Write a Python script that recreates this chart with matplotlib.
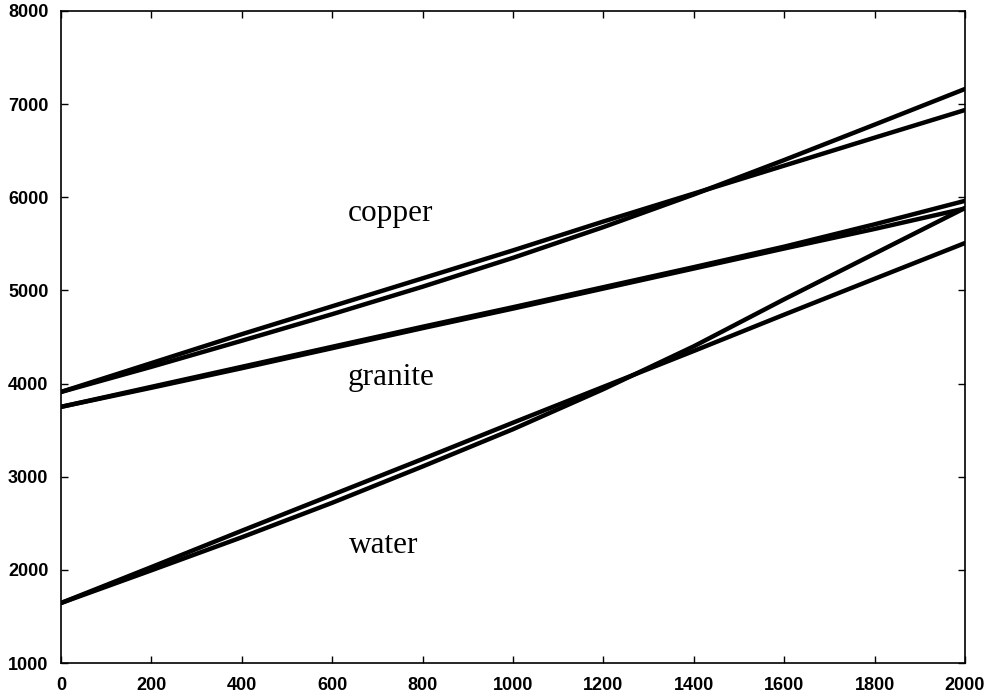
import matplotlib
matplotlib.use("Agg")
import matplotlib.pyplot as plt

# sample positions along the x axis
x_vals = [0, 200, 400, 600, 800, 1000, 1200, 1400, 1600, 1800, 2000]

# copper: two branches
copper_a = [3910, 4220, 4530, 4830, 5130, 5430, 5740, 6040, 6340, 6640, 6937]
copper_b = [3910, 4180, 4460, 4745, 5040, 5350, 5680, 6030, 6400, 6780, 7163]

# granite: two branches
granite_a = [3750, 3965, 4180, 4395, 4610, 4820, 5035, 5250, 5470, 5710, 5962]
granite_b = [3750, 3955, 4165, 4380, 4595, 4805, 5020, 5235, 5450, 5660, 5880]

# water: two branches
water_a = [1644, 2030, 2420, 2805, 3190, 3580, 3965, 4350, 4740, 5125, 5509]
water_b = [1644, 1995, 2350, 2720, 3110, 3510, 3940, 4400, 4905, 5395, 5885]

labels = ["copper", "granite", "water"]
label_x = [730, 730, 715]
label_y = [5830, 4060, 2260]

x_ticks = [0, 200, 400, 600, 800, 1000, 1200, 1400, 1600, 1800, 2000]
y_ticks = [1000, 2000, 3000, 4000, 5000, 6000, 7000, 8000]

fig = plt.figure(figsize=(9.87, 6.98), dpi=100)
ax = fig.add_axes([61/987, 1 - 663/698, (965 - 61)/987, (663 - 11)/698])

for series in [copper_a, copper_b, granite_a, granite_b, water_a, water_b]:
    ax.plot(x_vals, series, color="black", lw=3.2, solid_capstyle="round",
            solid_joinstyle="round")

for t, lx, ly in zip(labels, label_x, label_y):
    ax.text(lx, ly, t, family="Liberation Serif", fontsize=22.5,
            ha="center", va="center", color="black")

ax.set_xlim(0, 2000)
ax.set_ylim(1000, 8000)
ax.set_xticks(x_ticks)
ax.set_yticks(y_ticks)
ax.tick_params(direction="in", length=5, width=1.0, top=True, right=True,
               labelsize=13)
ax.tick_params(axis="x", pad=10)
ax.tick_params(axis="y", pad=9)
for lab in ax.get_xticklabels() + ax.get_yticklabels():
    lab.set_fontfamily("Liberation Sans")
    lab.set_fontweight("bold")
for sp in ax.spines.values():
    sp.set_linewidth(1.2)

fig.savefig("out.png", dpi=100)
